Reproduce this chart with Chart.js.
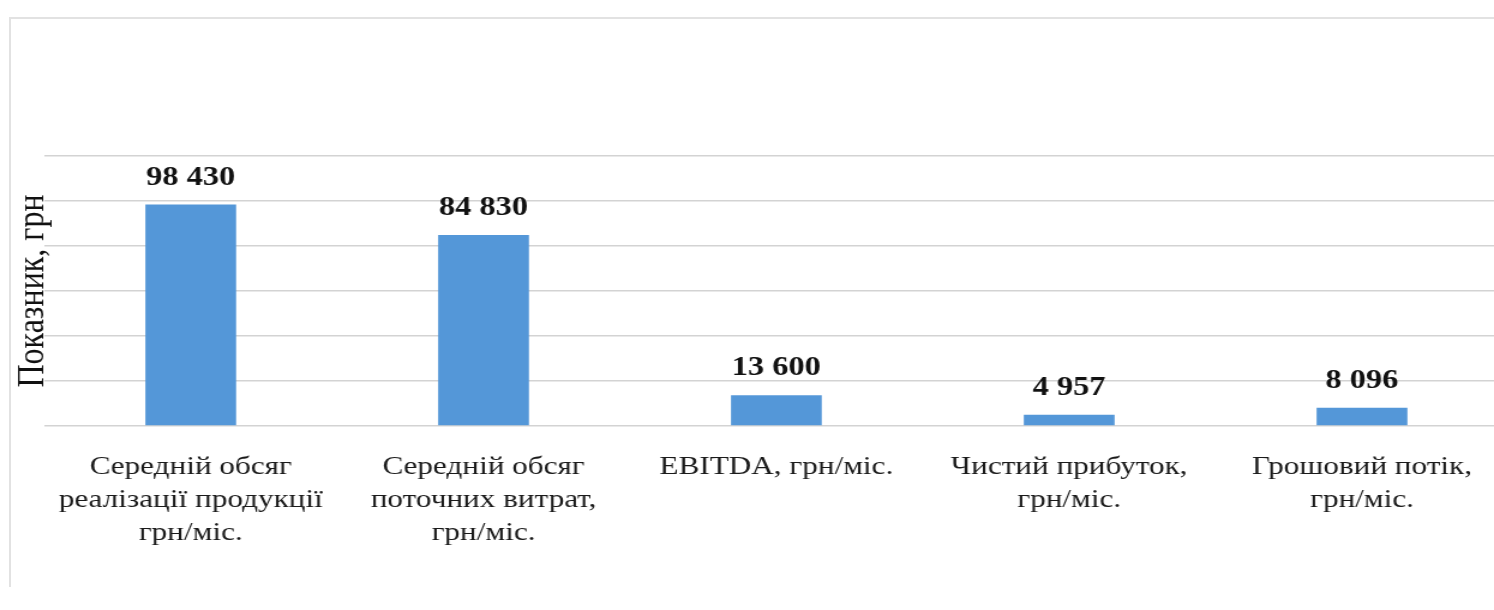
<!DOCTYPE html>
<html lang="uk">
<head>
<meta charset="utf-8">
<title>Показники</title>
<script src="https://cdn.jsdelivr.net/npm/chart.js@4.4.1/dist/chart.umd.min.js"></script>
<style>
  html, body { margin: 0; padding: 0; background: #fff; overflow: hidden; }
  body { width: 1494px; height: 610px; position: relative; }
  /* faint frame of the original picture (left and top edges only) */
  .frame {
    position: absolute; left: 9px; top: 17px; width: 1600px; height: 568px;
    border-left: 2px solid #e2e2e2; border-top: 2px solid #e2e2e2;
  }
  /* the source chart is stretched horizontally, so stretch the canvas too */
  #chart {
    position: absolute; left: 0; top: 0;
    transform: scaleX(1.2); transform-origin: 0 0;
  }
</style>
</head>
<body>
<div class="frame"></div>
<canvas id="chart" width="1262" height="610"></canvas>
<script>
/* ── Data ── */
const CATEGORIES = [
  ['Середній обсяг', 'реалізації продукції', 'грн/міс.'],
  ['Середній обсяг', 'поточних витрат,', 'грн/міс.'],
  ['EBITDA, грн/міс.'],
  ['Чистий прибуток,', 'грн/міс.'],
  ['Грошовий потік,', 'грн/міс.']
];
const VALUES = [98430, 84830, 13600, 4957, 8096];
const Y_TICKS = [0, 20000, 40000, 60000, 80000, 100000, 120000];
const Y_TITLE = 'Показник, грн';

const BAR_COLOR = '#5497d8';
const SERIF = '"Liberation Serif", "Times New Roman", serif';

/**
 * Formats a number with a space as thousands separator ("98 430").
 */
function formatValue(v) {
  return String(v).replace(/\B(?=(\d{3})+(?!\d))/g, ' ');
}

/* Draws the bold value above each bar (Chart.js has no built-in data labels) */
const valueLabels = {
  id: 'valueLabels',
  afterDatasetsDraw(chart) {
    const ctx = chart.ctx;
    const meta = chart.getDatasetMeta(0);
    ctx.save();
    ctx.font = 'bold 27px ' + SERIF;
    ctx.fillStyle = '#111';
    ctx.textAlign = 'center';
    ctx.textBaseline = 'alphabetic';
    meta.data.forEach((bar, i) => {
      ctx.fillText(formatValue(chart.data.datasets[0].data[i]), bar.x, bar.y - 20);
    });
    ctx.restore();
  }
};

new Chart(document.getElementById('chart'), {
  type: 'bar',
  data: {
    labels: CATEGORIES,
    datasets: [{
      data: VALUES,
      backgroundColor: BAR_COLOR,
      barPercentage: 0.31,
      categoryPercentage: 1
    }]
  },
  options: {
    responsive: false,
    animation: false,
    layout: { padding: { top: 156, bottom: 35, left: 0, right: 5 } },
    plugins: {
      legend: { display: false },
      tooltip: { enabled: false }
    },
    scales: {
      x: {
        grid: { display: false, drawTicks: false },
        border: { display: false },
        ticks: {
          autoSkip: false,
          maxRotation: 0,
          padding: 25,
          color: '#1a1a1a',
          font: { family: SERIF, size: 26, lineHeight: 1.27 }
        }
      },
      y: {
        min: Y_TICKS[0],
        max: Y_TICKS[Y_TICKS.length - 1],
        afterBuildTicks: function(axis) {
          axis.ticks = Y_TICKS.map(v => ({ value: v }));
        },
        grid: { color: '#d3d3d3', lineWidth: 1.5, drawTicks: false },
        border: { display: false },
        ticks: { display: false },
        title: {
          display: true,
          text: Y_TITLE,
          color: '#111',
          padding: { top: 19, bottom: 0 },
          font: { family: SERIF, size: 32, lineHeight: 0.56 }
        }
      }
    }
  },
  plugins: [valueLabels]
});
</script>
</body>
</html>
